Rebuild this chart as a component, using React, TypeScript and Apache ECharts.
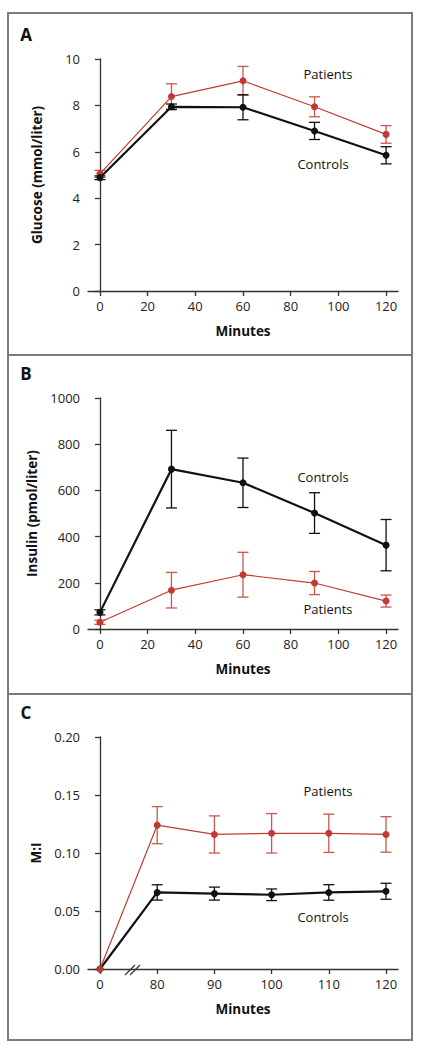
import React, { useEffect, useRef } from "react";
import * as echarts from "echarts";

// ---------- Data ----------
const minutesAB = [0, 30, 60, 90, 120];
const minuteTicksAB = [0, 20, 40, 60, 80, 100, 120];

const glucosePatients = [5.05, 8.38, 9.06, 7.94, 6.75];
const glucosePatientsErr = [0.15, 0.55, 0.62, 0.43, 0.38];
const glucoseControls = [4.88, 7.94, 7.92, 6.9, 5.85];
const glucoseControlsErr = [0.08, 0.12, 0.54, 0.37, 0.37];

const insulinPatients = [29, 168, 235, 199, 121];
const insulinPatientsErr = [9, 77, 97, 50, 26];
const insulinControls = [72, 692, 633, 502, 363];
const insulinControlsErr = [11, 168, 107, 88, 111];

const minutesC = [0, 80, 90, 100, 110, 120];
const miPatients = [0, 0.124, 0.116, 0.117, 0.117, 0.116];
const miPatientsErr = [0, 0.016, 0.016, 0.017, 0.0165, 0.0153];
const miControls = [0, 0.066, 0.065, 0.064, 0.066, 0.067];
const miControlsErr = [0, 0.0066, 0.0056, 0.005, 0.0067, 0.0069];

const FONT = "'Open Sans', 'Noto Sans', sans-serif";
const RED = "#c23b32";
const RED_ERR = "#c9574f";
const BLACK = "#111111";
const AXIS = "#333333";

function lineSeries(idx: number, xs: number[], ys: number[], color: string, width: number, size: number, z: number) {
  return {
    type: "line",
    xAxisIndex: idx,
    yAxisIndex: idx,
    data: xs.map((x, i) => [x, ys[i]]),
    symbol: "circle",
    symbolSize: size,
    showSymbol: true,
    lineStyle: { color, width },
    itemStyle: { color },
    z,
    silent: true,
  };
}

function errSeries(idx: number, xs: number[], ys: number[], errs: number[], color: string, z: number) {
  return {
    type: "custom",
    xAxisIndex: idx,
    yAxisIndex: idx,
    data: xs.map((x, i) => [x, ys[i] - errs[i], ys[i] + errs[i]]).filter((d, i) => errs[i] > 0),
    encode: { x: 0, y: [1, 2] },
    z,
    silent: true,
    renderItem: (params: any, api: any) => {
      const x = api.value(0);
      const lo = api.coord([x, api.value(1)]);
      const hi = api.coord([x, api.value(2)]);
      const hw = 5.5;
      const style = { stroke: color, lineWidth: 1.3, fill: "none" };
      return {
        type: "group",
        children: [
          { type: "line", shape: { x1: lo[0], y1: lo[1], x2: hi[0], y2: hi[1] }, style },
          { type: "line", shape: { x1: hi[0] - hw, y1: hi[1], x2: hi[0] + hw, y2: hi[1] }, style },
          { type: "line", shape: { x1: lo[0] - hw, y1: lo[1], x2: lo[0] + hw, y2: lo[1] }, style },
        ],
      };
    },
  };
}

function xAxis(idx: number, min: number, max: number, ticks: number[], fmt: (v: number) => string) {
  return {
    type: "value",
    gridIndex: idx,
    min,
    max,
    axisLine: { show: true, onZero: false, lineStyle: { color: AXIS, width: 1.3 } },
    axisTick: { show: true, length: 5, customValues: ticks, lineStyle: { color: AXIS, width: 1.3 } },
    axisLabel: {
      customValues: ticks,
      formatter: fmt,
      color: "#222",
      fontSize: 13,
      fontFamily: FONT,
      margin: 8,
    },
    splitLine: { show: false },
    name: "Minutes",
    nameLocation: "middle",
    nameGap: 33,
    nameTextStyle: { fontWeight: "bold", fontSize: 13.5, color: "#111", fontFamily: FONT },
  };
}

function yAxis(idx: number, max: number, interval: number, name: string, fmt: (v: number) => string) {
  return {
    type: "value",
    gridIndex: idx,
    min: 0,
    max,
    interval,
    axisLine: { show: true, lineStyle: { color: AXIS, width: 1.3 } },
    axisTick: { show: true, length: 5, lineStyle: { color: AXIS, width: 1.3 } },
    axisLabel: { formatter: fmt, color: "#222", fontSize: 13, fontFamily: FONT, margin: 8 },
    splitLine: { show: false },
    name,
    nameLocation: "middle",
    nameGap: 44,
    nameTextStyle: { fontWeight: "bold", fontSize: 13.5, color: "#111", fontFamily: FONT },
  };
}

function txt(x: number, y: number, text: string, font: string) {
  return {
    type: "text",
    x,
    y,
    silent: true,
    style: { text, font, fill: "#111", align: "center", verticalAlign: "middle" },
  };
}

export default function App() {
  const ref = useRef<HTMLDivElement>(null);

  useEffect(() => {
    if (!ref.current) return;
    const chart = echarts.init(ref.current, undefined, { renderer: "svg" });
    const labelFont = `13px ${FONT}`;
    const panelFont = `bold 17px ${FONT}`;
    const borderStyle = { fill: "none", stroke: "#7b7b7b", lineWidth: 2 };

    const option = {
      animation: false,
      backgroundColor: "#ffffff",
      grid: [
        { left: 88, width: 310, top: 59, height: 232 },
        { left: 88, width: 310, top: 398, height: 231 },
        { left: 88, width: 310, top: 737, height: 232 },
      ],
      xAxis: [
        xAxis(0, -5, 125, minuteTicksAB, (v: number) => String(v)),
        xAxis(1, -5, 125, minuteTicksAB, (v: number) => String(v)),
        xAxis(2, -0.21, minutesC.length - 1 + 0.21, minutesC.map((_, i) => i), (v: number) => String(minutesC[Math.round(v)])),
      ],
      yAxis: [
        yAxis(0, 10, 2, "Glucose (mmol/liter)", (v: number) => String(v)),
        yAxis(1, 1000, 200, "Insulin (pmol/liter)", (v: number) => String(v)),
        yAxis(2, 0.2, 0.05, "M:I", (v: number) => v.toFixed(2)),
      ],
      series: [
        errSeries(0, minutesAB, glucosePatients, glucosePatientsErr, RED_ERR, 2),
        lineSeries(0, minutesAB, glucosePatients, RED, 1.2, 7, 3),
        errSeries(0, minutesAB, glucoseControls, glucoseControlsErr, BLACK, 4),
        lineSeries(0, minutesAB, glucoseControls, BLACK, 2.2, 7, 5),

        errSeries(1, minutesAB, insulinPatients, insulinPatientsErr, RED_ERR, 2),
        lineSeries(1, minutesAB, insulinPatients, RED, 1.2, 7, 3),
        errSeries(1, minutesAB, insulinControls, insulinControlsErr, BLACK, 4),
        lineSeries(1, minutesAB, insulinControls, BLACK, 2.2, 7, 5),

        errSeries(2, minutesC.map((_, i) => i), miControls, miControlsErr, BLACK, 2),
        lineSeries(2, minutesC.map((_, i) => i), miControls, BLACK, 2.2, 7, 3),
        errSeries(2, minutesC.map((_, i) => i), miPatients, miPatientsErr, RED_ERR, 4),
        lineSeries(2, minutesC.map((_, i) => i), miPatients, RED, 1.2, 7, 5),
      ],
      graphic: [
        { type: "rect", shape: { x: 8, y: 13, width: 404, height: 342 }, style: borderStyle, silent: true },
        { type: "rect", shape: { x: 8, y: 355, width: 404, height: 339 }, style: borderStyle, silent: true },
        { type: "rect", shape: { x: 8, y: 694, width: 404, height: 346 }, style: borderStyle, silent: true },
        txt(26, 34, "A", panelFont),
        txt(26, 373, "B", panelFont),
        txt(26, 712, "C", panelFont),
        txt(328, 74, "Patients", labelFont),
        txt(323, 164, "Controls", labelFont),
        txt(323, 477, "Controls", labelFont),
        txt(328, 609, "Patients", labelFont),
        txt(328, 791, "Patients", labelFont),
        txt(323, 917, "Controls", labelFont),
        { type: "line", shape: { x1: 125, y1: 975, x2: 135, y2: 965 }, style: { stroke: "#333", lineWidth: 1.2 }, silent: true, z: 10 },
        { type: "line", shape: { x1: 130, y1: 975, x2: 140, y2: 965 }, style: { stroke: "#333", lineWidth: 1.2 }, silent: true, z: 10 },
      ],
    };

    chart.setOption(option as any);
    return () => chart.dispose();
  }, []);

  return (
    <div
      ref={ref}
      style={{ position: "absolute", left: 0, top: 0, width: 422, height: 1049, background: "#fff" }}
    />
  );
}
